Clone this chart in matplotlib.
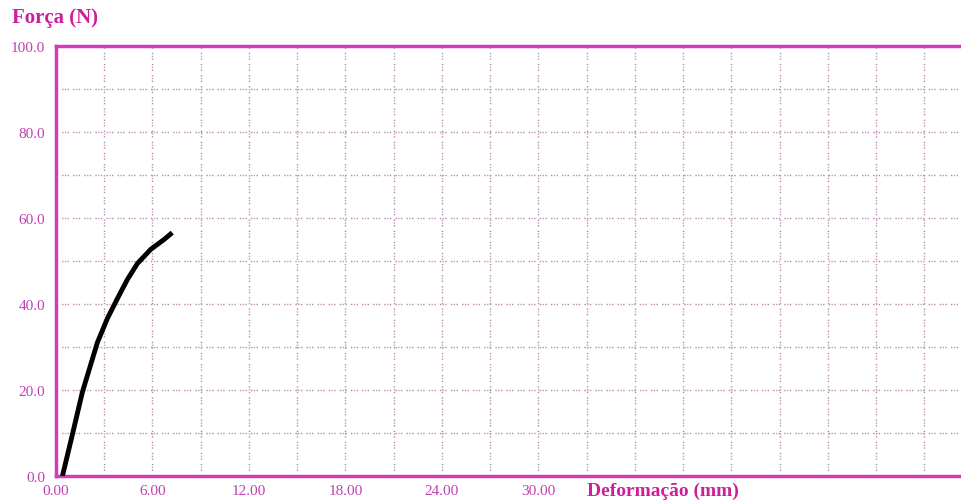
import numpy as np
import matplotlib.pyplot as plt

# curve (deformation mm, force N)
deform = [0.4, 1.01, 1.64, 2.57, 3.19, 3.81, 4.44, 5.06, 5.89, 6.72, 7.23]
force = [0.0, 9.5, 19.5, 31.0, 36.6, 41.2, 45.7, 49.4, 52.7, 55.0, 56.6]

x_labels = ['0.00', '6.00', '12.00', '18.00', '24.00', '30.00']
y_labels = ['0.0', '20.0', '40.0', '60.0', '80.0', '100.0']

pink = '#d23cb8'
label_col = '#cc1f9c'

plt.rcParams['font.family'] = ['Liberation Serif', 'DejaVu Serif']

fig = plt.figure(figsize=(9.61, 5.02), dpi=100)
fig.patch.set_facecolor('white')
ax = fig.add_axes([56 / 961, 25 / 502, 1 - 56 / 961, 430 / 502])

x_max = (961 - 56) / 16.08
ax.set_xlim(0, x_max)
ax.set_ylim(0, 100)

# grid: grey dots with some pink ones in between
xg = np.arange(3, x_max, 3)
yg = np.arange(10, 100, 10)
for x in xg:
    ax.axvline(x, color='#9a9a9a', lw=1.0, ls=(0, (1, 3)), zorder=1)
    ax.axvline(x, color='#f080dc', lw=1.0, ls=(2, (1, 7)), zorder=1)
for y in yg:
    ax.axhline(y, color='#9a9a9a', lw=1.0, ls=(0, (1, 3)), zorder=1)
    ax.axhline(y, color='#f080dc', lw=1.0, ls=(2, (1, 7)), zorder=1)

ax.plot(deform, force, color='black', lw=3.5, solid_capstyle='butt',
        solid_joinstyle='round', zorder=3)

ax.set_xticks(np.arange(0, 31, 6))
ax.set_xticklabels(x_labels)
ax.set_yticks(np.arange(0, 101, 20))
ax.set_yticklabels(y_labels)
ax.tick_params(length=0, labelsize=11, labelcolor='#c040b0')
ax.tick_params(axis='x', pad=6)
ax.tick_params(axis='y', pad=8)

for side in ['left', 'bottom', 'top']:
    ax.spines[side].set_color(pink)
    ax.spines[side].set_linewidth(2.5)
ax.spines['right'].set_visible(False)

fig.text(12 / 961, 1 - 18 / 502, 'Força (N)', fontsize=15, fontweight='bold',
         color=label_col, va='center', ha='left')
ax.annotate('Deformação (mm)', xy=(33.0, 0), xycoords='data',
            xytext=(0, -13.5), textcoords='offset points',
            fontsize=14, fontweight='bold', color=label_col, ha='left', va='baseline',
            annotation_clip=False)

fig.savefig('out.png', dpi=100)
